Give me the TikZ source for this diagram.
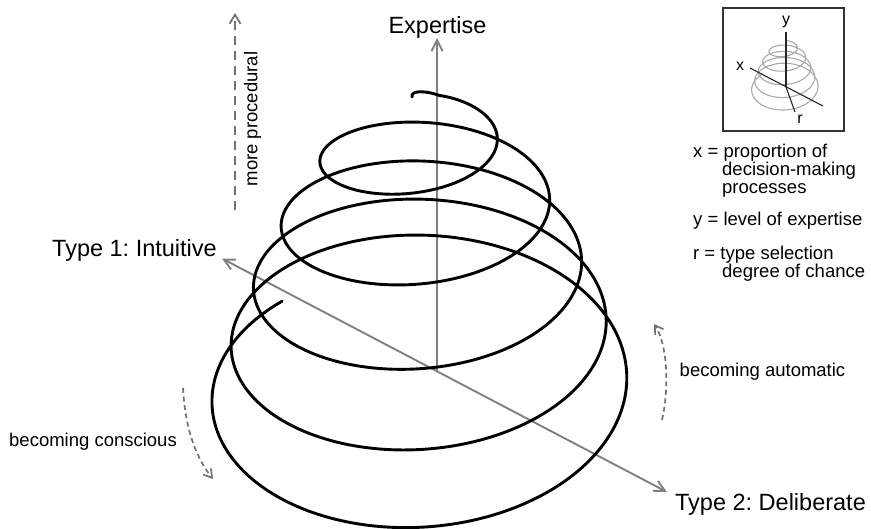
\documentclass[tikz,border=0pt]{standalone}
\usepackage{fontspec}
\setmainfont{Liberation Sans}
\usetikzlibrary{arrows.meta}
\definecolor{axisgray}{RGB}{128,128,128}
\definecolor{dashgray}{RGB}{115,115,115}
\definecolor{minigray}{RGB}{170,170,170}
\frenchspacing
\begin{document}
\begin{tikzpicture}[x=1pt,y=-1pt,
  declare function={sa(\t)=111*(\t+0.1)^0.41; sb(\t)=sa(\t)*(0.46+0.045*\t); scy(\t)=148+66*(\t-0.5)-1.4*(\t-0.5)*(\t-0.5);},
  bigtxt/.style={font=\fontsize{23.5}{28}\selectfont, inner sep=0pt},
  smalltxt/.style={font=\fontsize{18.5}{22}\selectfont, inner sep=0pt},
  minitxt/.style={font=\fontsize{16}{19}\selectfont, inner sep=0pt},
  axisline/.style={draw=axisgray, line width=1.9pt},
  spiralline/.style={draw=black, line width=2.9pt, line cap=round},
  dasharrow/.style={draw=dashgray, line width=1.8pt, dash pattern=on 9pt off 6pt, -{Straight Barb[length=9pt,width=11pt]}},
  curvearrow/.style={draw=dashgray, line width=1.7pt, dash pattern=on 5pt off 3.5pt, -{Straight Barb[length=8pt,width=10pt]}},
  minispiral/.style={draw=minigray, line width=1.1pt},
  miniaxis/.style={draw=black!85, line width=1.1pt},
  legendbox/.style={draw=black!80, line width=1.6pt}
]
\useasboundingbox (0,0) rectangle (871,528);

% main axes
\coordinate (O) at (437,372);
\coordinate (Etop) at (437,38);
\coordinate (T1) at (222,258.5);
\coordinate (T2) at (667,492);
\draw[axisline, -{Straight Barb[length=11pt,width=11pt]}] (O) -- (Etop);
\draw[axisline, {Straight Barb[length=11pt,width=11pt]}-{Straight Barb[length=11pt,width=11pt]}] (T1) -- (T2);

% spiral
\draw[spiralline] (412,97) .. controls (410.5,90) and (426,90.5) .. (439.8,95.6)
  -- plot[domain=0.05:4.885, samples=500, variable=\t, smooth]
     ({424+sa(\t)*sin(360*\t)}, {scy(\t)-sb(\t)*cos(360*\t)});

% labels of axes
\node[bigtxt, anchor=base] (expertise) at (437.5,33) {Expertise};
\node[bigtxt, anchor=base] (type1) at (134.5,256) {Type 1: Intuitive};
\node[bigtxt, anchor=base] (type2) at (770.5,510) {Type 2: Deliberate};

% more procedural
\coordinate (MPa) at (235,210);
\coordinate (MPb) at (235,13);
\draw[dasharrow] (MPa) -- (MPb);
\node[smalltxt, rotate=90] (procedural) at (252.5,119) {more procedural};

% becoming conscious
\coordinate (BCa) at (183,388);
\coordinate (BCb) at (213,479);
\draw[curvearrow] (BCa) .. controls (185,425) and (194,455) .. (BCb);
\node[smalltxt, anchor=base] (conscious) at (93,446) {becoming conscious};

% becoming automatic
\coordinate (BAa) at (662,420);
\coordinate (BAb) at (654,324);
\draw[curvearrow] (BAa) .. controls (669,390) and (668,345) .. (BAb);
\node[smalltxt, anchor=base] (automatic) at (762.5,376) {becoming automatic};

% legend box
\node[legendbox, minimum width=121pt, minimum height=123pt, inner sep=0pt, anchor=north west] (box) at (722,7) {};
\begin{scope}[shift={(785,40)}, scale=0.16, shift={(-420.5,-90)}]
  \draw[minispiral] plot[domain=0:4.885, samples=300, variable=\t, smooth]
     ({424+sa(\t)*sin(360*\t)}, {scy(\t)-sb(\t)*cos(360*\t)});
\end{scope}
\coordinate (mO) at (786,87);
\coordinate (mY) at (786,32);
\coordinate (mX1) at (750,68);
\coordinate (mX2) at (823,106);
\coordinate (mR) at (795,112);
\draw[miniaxis] (mO) -- (mY);
\draw[miniaxis] (mX1) -- (mX2);
\draw[miniaxis] (mO) -- (mR);
\node[minitxt] (ly) at (786,22) {y};
\node[minitxt] (lx) at (740,66) {x};
\node[minitxt] (lr) at (800,119) {r};

% legend text
\node[smalltxt, anchor=base west] (lg1) at (693,157) {x = proportion of};
\node[smalltxt, anchor=base west] (lg2) at (722,175) {decision-making};
\node[smalltxt, anchor=base west] (lg3) at (722,193) {processes};
\node[smalltxt, anchor=base west] (lg4) at (693,225) {y = level of expertise};
\node[smalltxt, anchor=base west] (lg5) at (693,259) {r = type selection};
\node[smalltxt, anchor=base west] (lg6) at (722,277) {degree of chance};
\end{tikzpicture}
\end{document}
